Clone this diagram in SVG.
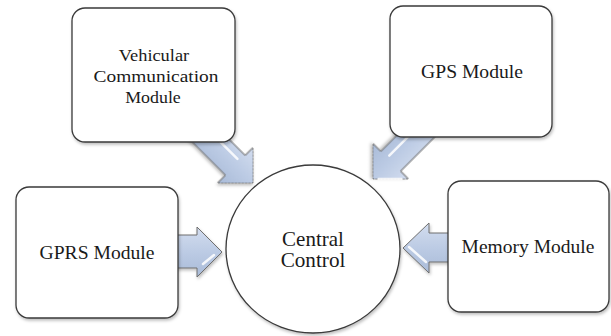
<svg xmlns="http://www.w3.org/2000/svg" width="611" height="336" viewBox="0 0 611 336">
<defs>
<linearGradient id="ag" x1="0" y1="0" x2="0" y2="1">
<stop offset="0" stop-color="#d3ddef"/>
<stop offset="0.5" stop-color="#bccbe4"/>
<stop offset="1" stop-color="#a9bbd8"/>
</linearGradient>
<filter id="sh" x="-10%" y="-10%" width="125%" height="125%">
<feDropShadow dx="1" dy="2" stdDeviation="1.5" flood-color="#000" flood-opacity="0.25"/>
</filter>
</defs>
<style>
.box{fill:#ffffff;stroke:#3a3a3a;stroke-width:1.3;filter:url(#sh)}
.arr{fill:url(#ag);stroke:#6e6e6e;stroke-width:1;filter:url(#sh)}
.hl{stroke:#ffffff;stroke-width:2.5;stroke-opacity:0.85;fill:none;stroke-linecap:round}
.t{font-family:'Liberation Serif',serif;font-size:17px;fill:#1a1a1a;text-anchor:middle}
.t18{font-family:'Liberation Serif',serif;font-size:18px;fill:#1a1a1a;text-anchor:middle}
.tc{font-family:'Liberation Serif',serif;font-size:20px;fill:#1a1a1a;text-anchor:middle}
</style>
<rect width="611" height="336" fill="#ffffff"/>
<g id="connectors">
<g id="arrow-vehicular" transform="translate(253,183) rotate(45)">
<path class="arr" d="M0,0 L-25,-25 L-25,-14 L-80,-14 L-80,14 L-25,14 L-25,25 Z"/>
<line class="hl" x1="-70" y1="-6" x2="-28" y2="-6"/>
</g>
<g id="arrow-gps" transform="translate(373,179) rotate(135)">
<path class="arr" d="M0,0 L-25,-25 L-25,-14 L-80,-14 L-80,14 L-25,14 L-25,25 Z"/>
<line class="hl" x1="-70" y1="5" x2="-28" y2="5"/>
<line class="hl" x1="-4" y1="-4" x2="-20" y2="-20" stroke-width="1.5"/>
</g>
<g id="arrow-gprs">
<path class="arr" d="M222,252 L197,227 L197,235 L176,235 L176,268 L197,268 L197,277 Z"/>
<line class="hl" x1="203" y1="264" x2="214" y2="255" stroke-width="2"/>
</g>
<g id="arrow-memory">
<path class="arr" d="M403,248 L429,223 L429,233 L449,233 L449,262 L429,262 L429,273 Z"/>
<line class="hl" x1="409" y1="247" x2="426" y2="262" stroke-width="1.5"/>
</g>
</g>
<g id="node-vehicular">
<rect class="box" x="72" y="8" width="163" height="134" rx="13"/>
<text class="t" transform="translate(154,61) scale(1.08,1)">Vehicular</text>
<text class="t" transform="translate(156,82) scale(1.14,1)">Communication</text>
<text class="t" transform="translate(153,103) scale(1.05,1)">Module</text>
</g>
<g id="node-gps">
<rect class="box" x="390" y="6" width="162" height="131" rx="13"/>
<text class="t18" transform="translate(472,78) scale(1.09,1)">GPS Module</text>
</g>
<g id="node-gprs">
<rect class="box" x="16" y="187" width="162" height="131" rx="13"/>
<text class="t18" transform="translate(97,259) scale(1.09,1)">GPRS Module</text>
</g>
<g id="node-memory">
<rect class="box" x="448" y="181" width="161" height="131" rx="13"/>
<text class="t18" transform="translate(528,253) scale(1.085,1)">Memory Module</text>
</g>
<g id="node-central">
<ellipse class="box" cx="313" cy="249" rx="87" ry="84"/>
<text class="tc" transform="translate(313,246) scale(1.05,1)">Central</text>
<text class="tc" transform="translate(313,267) scale(1.06,1)">Control</text>
</g>
</svg>
